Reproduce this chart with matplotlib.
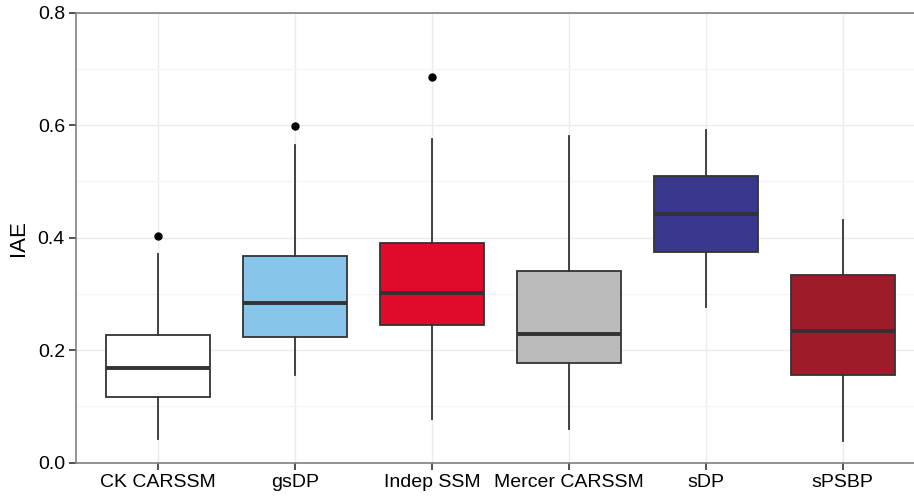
import matplotlib

matplotlib.use("Agg")
import matplotlib.pyplot as plt
from matplotlib.ticker import MultipleLocator

plt.rcParams["font.family"] = ["Liberation Sans", "DejaVu Sans"]

# box summaries (IAE)
methods = ["CK CARSSM", "gsDP", "Indep SSM", "Mercer CARSSM", "sDP", "sPSBP"]
whisk_lo = [0.042, 0.156, 0.077, 0.060, 0.277, 0.039]
q1 = [0.116, 0.224, 0.245, 0.178, 0.374, 0.156]
medians = [0.169, 0.284, 0.302, 0.229, 0.443, 0.235]
q3 = [0.2265, 0.367, 0.391, 0.340, 0.510, 0.334]
whisk_hi = [0.371, 0.565, 0.576, 0.580, 0.591, 0.432]
outliers = [[0.403], [0.599], [0.686], [], [], []]
fills = ["#FFFFFF", "#87C5EA", "#E00B2A", "#BBBBBB", "#3A388C", "#9E1B2A"]

stats = []
for i, name in enumerate(methods):
    stats.append(dict(label=name, whislo=whisk_lo[i], q1=q1[i], med=medians[i],
                      q3=q3[i], whishi=whisk_hi[i], fliers=outliers[i]))

fig = plt.figure(figsize=(9.14, 4.97), dpi=100)
ax = fig.add_axes([76 / 914, 34.3 / 497, 1 - 76 / 914, 450 / 497])

edge = "#333333"
bp = ax.bxp(stats, positions=range(1, 7), widths=0.76, patch_artist=True,
            showcaps=False,
            boxprops=dict(edgecolor=edge, linewidth=1.3),
            whiskerprops=dict(color=edge, linewidth=1.3),
            medianprops=dict(color=edge, linewidth=2.8, solid_capstyle="butt"),
            flierprops=dict(marker="o", markerfacecolor="black",
                            markeredgecolor="black", markersize=5))
for patch, c in zip(bp["boxes"], fills):
    patch.set_facecolor(c)

ax.set_xlim(0.4, 6.52)
ax.set_ylim(0, 0.8)
ax.yaxis.set_major_locator(MultipleLocator(0.2))
ax.yaxis.set_minor_locator(MultipleLocator(0.1))
ax.set_yticklabels([f"{v:.1f}" for v in ax.get_yticks()])
ax.set_xticks(range(1, 7))
ax.set_xticklabels(methods)

ax.grid(True, which="major", color="#EBEBEB", linewidth=1.0)
ax.grid(True, which="minor", axis="y", color="#F5F5F5", linewidth=1.0)
ax.set_axisbelow(True)

for s in ["left", "bottom", "top"]:
    ax.spines[s].set_color("#808080")
    ax.spines[s].set_linewidth(1.2)
ax.spines["right"].set_visible(False)

ax.tick_params(axis="both", which="major", length=5, width=1.2,
               color="#333333", labelsize=14, labelcolor="black", pad=3)
ax.tick_params(axis="y", which="minor", length=0)
ax.set_ylabel("IAE", fontsize=16, labelpad=6)

fig.savefig("out.png", dpi=100)
